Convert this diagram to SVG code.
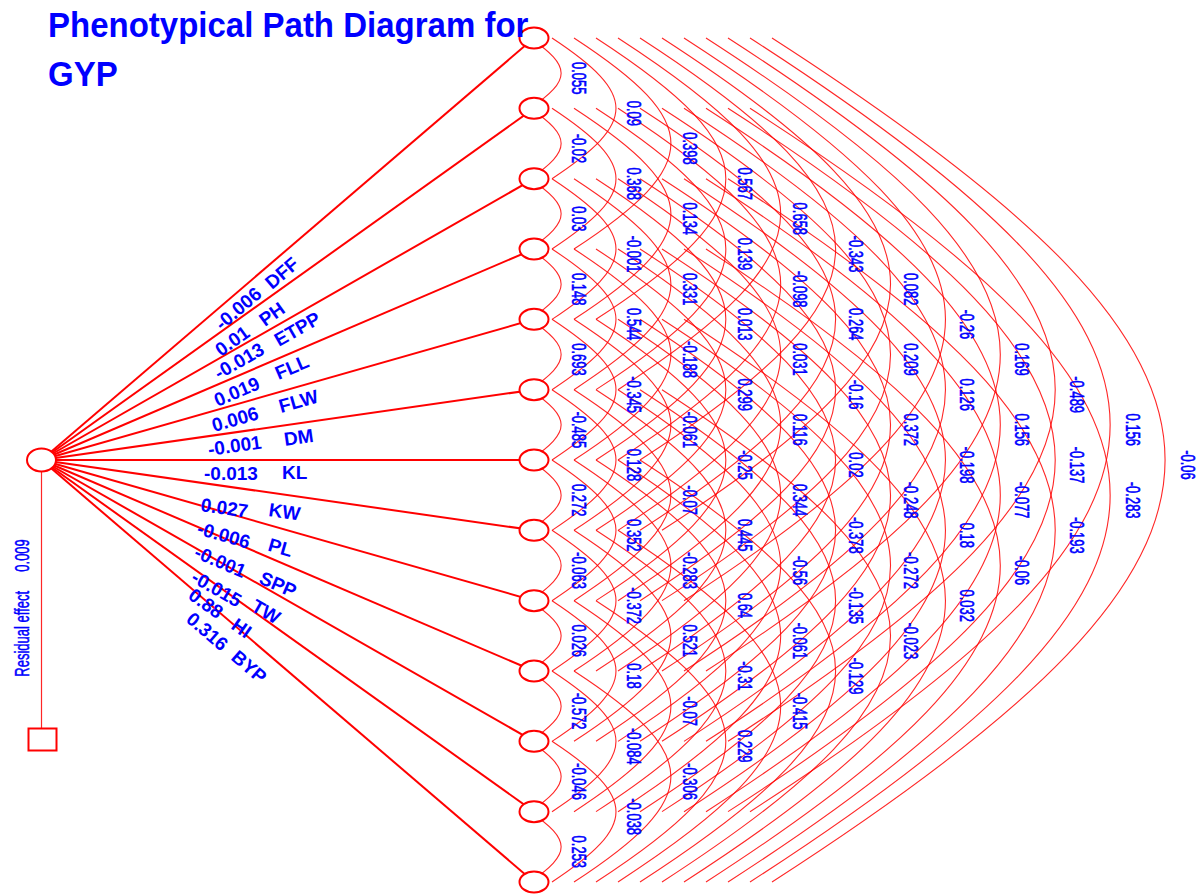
<svg xmlns="http://www.w3.org/2000/svg" width="1203" height="894" viewBox="0 0 1203 894">
<style>
.t{font-family:"Liberation Sans",Arial,sans-serif;fill:#0000ff}
.ttl{font-size:33px;font-weight:bold}
.eff{font-size:19px;font-weight:bold}
.r{font-size:20px;text-anchor:middle;stroke:#0000ff;stroke-width:0.6}
.res{font-size:20px;stroke:#0000ff;stroke-width:0.5}
.spoke{stroke:#ff0000;stroke-width:2}
.node{fill:#ffffff;stroke:#ff0000;stroke-width:2}
</style>
<defs>
<!-- correlation arcs, one shape per node distance k, drawn from y=0 -->
<path id="a1" d="M530,0 C571.5,28.13 571.5,42.2 530,70.33"/>
<path id="a2" d="M552,0 C637.3,56.27 637.3,84.4 552,140.67"/>
<path id="a3" d="M574,0 C703.2,84.4 703.2,126.6 574,211"/>
<path id="a4" d="M596,0 C769.1,112.5 769.1,168.8 596,281.33"/>
<path id="a5" d="M618,0 C834.9,140.7 834.9,211 618,351.67"/>
<path id="a6" d="M640,0 C900.8,168.8 900.8,253.2 640,422"/>
<path id="a7" d="M662,0 C966.7,196.9 966.7,295.4 662,492.33"/>
<path id="a8" d="M684,0 C1032.6,225.1 1032.6,337.6 684,562.67"/>
<path id="a9" d="M706,0 C1098.4,253.2 1098.4,379.8 706,633"/>
<path id="a10" d="M728,0 C1164.3,281.3 1164.3,422 728,703.33"/>
<path id="a11" d="M750,0 C1230.2,309.4 1230.2,464.3 750,773.67"/>
<path id="a12" d="M772,0 C1296.1,337.6 1296.1,506.4 772,844"/>
</defs>
<rect width="1203" height="894" fill="#ffffff"/>

<g id="connectors">
<g id="arcs" fill="none" stroke="#ff0000" stroke-width="1.1" stroke-opacity="0.85">
<use href="#a1" y="38"/><use href="#a1" y="108.33"/><use href="#a1" y="178.67"/><use href="#a1" y="249"/><use href="#a1" y="319.33"/><use href="#a1" y="389.67"/><use href="#a1" y="460"/><use href="#a1" y="530.33"/><use href="#a1" y="600.67"/><use href="#a1" y="671"/><use href="#a1" y="741.33"/><use href="#a1" y="811.67"/>
<use href="#a2" y="38"/><use href="#a2" y="108.33"/><use href="#a2" y="178.67"/><use href="#a2" y="249"/><use href="#a2" y="319.33"/><use href="#a2" y="389.67"/><use href="#a2" y="460"/><use href="#a2" y="530.33"/><use href="#a2" y="600.67"/><use href="#a2" y="671"/><use href="#a2" y="741.33"/>
<use href="#a3" y="38"/><use href="#a3" y="108.33"/><use href="#a3" y="178.67"/><use href="#a3" y="249"/><use href="#a3" y="319.33"/><use href="#a3" y="389.67"/><use href="#a3" y="460"/><use href="#a3" y="530.33"/><use href="#a3" y="600.67"/><use href="#a3" y="671"/>
<use href="#a4" y="38"/><use href="#a4" y="108.33"/><use href="#a4" y="178.67"/><use href="#a4" y="249"/><use href="#a4" y="319.33"/><use href="#a4" y="389.67"/><use href="#a4" y="460"/><use href="#a4" y="530.33"/><use href="#a4" y="600.67"/>
<use href="#a5" y="38"/><use href="#a5" y="108.33"/><use href="#a5" y="178.67"/><use href="#a5" y="249"/><use href="#a5" y="319.33"/><use href="#a5" y="389.67"/><use href="#a5" y="460"/><use href="#a5" y="530.33"/>
<use href="#a6" y="38"/><use href="#a6" y="108.33"/><use href="#a6" y="178.67"/><use href="#a6" y="249"/><use href="#a6" y="319.33"/><use href="#a6" y="389.67"/><use href="#a6" y="460"/>
<use href="#a7" y="38"/><use href="#a7" y="108.33"/><use href="#a7" y="178.67"/><use href="#a7" y="249"/><use href="#a7" y="319.33"/><use href="#a7" y="389.67"/>
<use href="#a8" y="38"/><use href="#a8" y="108.33"/><use href="#a8" y="178.67"/><use href="#a8" y="249"/><use href="#a8" y="319.33"/>
<use href="#a9" y="38"/><use href="#a9" y="108.33"/><use href="#a9" y="178.67"/><use href="#a9" y="249"/>
<use href="#a10" y="38"/><use href="#a10" y="108.33"/><use href="#a10" y="178.67"/>
<use href="#a11" y="38"/><use href="#a11" y="108.33"/>
<use href="#a12" y="38"/>
</g>
<g id="spokes" class="spoke">
<line x1="41.5" y1="460" x2="534" y2="38"/>
<line x1="41.5" y1="460" x2="534" y2="108.33"/>
<line x1="41.5" y1="460" x2="534" y2="178.67"/>
<line x1="41.5" y1="460" x2="534" y2="249"/>
<line x1="41.5" y1="460" x2="534" y2="319.33"/>
<line x1="41.5" y1="460" x2="534" y2="389.67"/>
<line x1="41.5" y1="460" x2="534" y2="460"/>
<line x1="41.5" y1="460" x2="534" y2="530.33"/>
<line x1="41.5" y1="460" x2="534" y2="600.67"/>
<line x1="41.5" y1="460" x2="534" y2="671"/>
<line x1="41.5" y1="460" x2="534" y2="741.33"/>
<line x1="41.5" y1="460" x2="534" y2="811.67"/>
<line x1="41.5" y1="460" x2="534" y2="882"/>
</g>
<line id="residual-link" x1="41.5" y1="471" x2="41.5" y2="728.5" stroke="#ff0000" stroke-width="1.2" stroke-opacity="0.85"/>
</g>

<!-- trait nodes -->
<g id="node-DFF"><ellipse class="node" cx="534" cy="38" rx="14.5" ry="10.5"/></g>
<g id="node-PH"><ellipse class="node" cx="534" cy="108.33" rx="14.5" ry="10.5"/></g>
<g id="node-ETPP"><ellipse class="node" cx="534" cy="178.67" rx="14.5" ry="10.5"/></g>
<g id="node-FLL"><ellipse class="node" cx="534" cy="249" rx="14.5" ry="10.5"/></g>
<g id="node-FLW"><ellipse class="node" cx="534" cy="319.33" rx="14.5" ry="10.5"/></g>
<g id="node-DM"><ellipse class="node" cx="534" cy="389.67" rx="14.5" ry="10.5"/></g>
<g id="node-KL"><ellipse class="node" cx="534" cy="460" rx="14.5" ry="10.5"/></g>
<g id="node-KW"><ellipse class="node" cx="534" cy="530.33" rx="14.5" ry="10.5"/></g>
<g id="node-PL"><ellipse class="node" cx="534" cy="600.67" rx="14.5" ry="10.5"/></g>
<g id="node-SPP"><ellipse class="node" cx="534" cy="671" rx="14.5" ry="10.5"/></g>
<g id="node-TW"><ellipse class="node" cx="534" cy="741.33" rx="14.5" ry="10.5"/></g>
<g id="node-HI"><ellipse class="node" cx="534" cy="811.67" rx="14.5" ry="10.5"/></g>
<g id="node-BYP"><ellipse class="node" cx="534" cy="882" rx="14.5" ry="10.5"/></g>
<g id="node-GYP"><ellipse class="node" cx="41.5" cy="460" rx="14.5" ry="11.5"/></g>
<g id="node-residual"><rect class="node" x="28.5" y="728.5" width="28" height="22"/></g>

<!-- title -->
<text class="t ttl" transform="translate(48,37) scale(1,1.06)">Phenotypical Path Diagram for</text>
<text class="t ttl" transform="translate(48,86) scale(1,1.06)">GYP</text>

<!-- residual effect -->
<text class="t res" transform="translate(29,676.7) rotate(-90) scale(0.65,1)">Residual effect</text>
<text class="t res" transform="translate(29,571.7) rotate(-90) scale(0.65,1)">0.009</text>

<!-- direct effects on the spokes -->
<g id="direct-effects" class="t eff">
<text transform="translate(222,331) rotate(-40.6)">-0.006</text><text transform="translate(272,290) rotate(-40.6)">DFF</text>
<text transform="translate(221,357) rotate(-35.53)">0.01</text><text transform="translate(265,327) rotate(-35.53)">PH</text>
<text transform="translate(219,380) rotate(-29.74)">-0.013</text><text transform="translate(279,347) rotate(-29.74)">ETPP</text>
<text transform="translate(217.5,407) rotate(-23.19)">0.019</text><text transform="translate(278.5,380) rotate(-23.19)">FLL</text>
<text transform="translate(214,432) rotate(-15.94)">0.006</text><text transform="translate(281,413) rotate(-15.94)">FLW</text>
<text transform="translate(209,456) rotate(-8.13)">-0.001</text><text transform="translate(285,446) rotate(-8.13)">DM</text>
<text transform="translate(204,480)">-0.013</text><text transform="translate(282,479)">KL</text>
<text transform="translate(200,511) rotate(8.13)">0.027</text><text transform="translate(268,516) rotate(8.13)">KW</text>
<text transform="translate(196,534) rotate(15.94)">-0.006</text><text transform="translate(267,550.5) rotate(15.94)">PL</text>
<text transform="translate(193,557) rotate(23.19)">-0.001</text><text transform="translate(258,583) rotate(23.19)">SPP</text>
<text transform="translate(190,581) rotate(29.74)">-0.015</text><text transform="translate(250,610) rotate(29.74)">TW</text>
<text transform="translate(187,598) rotate(35.53)">0.88</text><text transform="translate(230,628) rotate(35.53)">HI</text>
<text transform="translate(185,621) rotate(40.6)">0.316</text><text transform="translate(230,659) rotate(40.6)">BYP</text>
</g>

<!-- correlations, one column per node distance -->
<g id="correlations" class="t r">
<g transform="translate(571.7,0)">
<text transform="translate(0,78.17) rotate(90) scale(0.65,1)">0.055</text>
<text transform="translate(0,148.5) rotate(90) scale(0.65,1)">-0.02</text>
<text transform="translate(0,218.83) rotate(90) scale(0.65,1)">0.03</text>
<text transform="translate(0,289.17) rotate(90) scale(0.65,1)">0.148</text>
<text transform="translate(0,359.5) rotate(90) scale(0.65,1)">0.693</text>
<text transform="translate(0,429.83) rotate(90) scale(0.65,1)">-0.485</text>
<text transform="translate(0,500.17) rotate(90) scale(0.65,1)">0.272</text>
<text transform="translate(0,570.5) rotate(90) scale(0.65,1)">-0.063</text>
<text transform="translate(0,640.83) rotate(90) scale(0.65,1)">0.026</text>
<text transform="translate(0,711.17) rotate(90) scale(0.65,1)">-0.572</text>
<text transform="translate(0,781.5) rotate(90) scale(0.65,1)">-0.046</text>
<text transform="translate(0,851.83) rotate(90) scale(0.65,1)">0.253</text>
</g>
<g transform="translate(627.1,0)">
<text transform="translate(0,113.33) rotate(90) scale(0.65,1)">0.09</text>
<text transform="translate(0,183.67) rotate(90) scale(0.65,1)">0.368</text>
<text transform="translate(0,254) rotate(90) scale(0.65,1)">-0.001</text>
<text transform="translate(0,324.33) rotate(90) scale(0.65,1)">0.544</text>
<text transform="translate(0,394.67) rotate(90) scale(0.65,1)">-0.345</text>
<text transform="translate(0,465) rotate(90) scale(0.65,1)">0.128</text>
<text transform="translate(0,535.33) rotate(90) scale(0.65,1)">0.352</text>
<text transform="translate(0,605.67) rotate(90) scale(0.65,1)">-0.372</text>
<text transform="translate(0,676) rotate(90) scale(0.65,1)">0.18</text>
<text transform="translate(0,746.33) rotate(90) scale(0.65,1)">-0.084</text>
<text transform="translate(0,816.67) rotate(90) scale(0.65,1)">-0.038</text>
</g>
<g transform="translate(682.5,0)">
<text transform="translate(0,148.5) rotate(90) scale(0.65,1)">0.398</text>
<text transform="translate(0,218.83) rotate(90) scale(0.65,1)">0.134</text>
<text transform="translate(0,289.17) rotate(90) scale(0.65,1)">0.331</text>
<text transform="translate(0,359.5) rotate(90) scale(0.65,1)">-0.188</text>
<text transform="translate(0,429.83) rotate(90) scale(0.65,1)">-0.061</text>
<text transform="translate(0,500.17) rotate(90) scale(0.65,1)">-0.07</text>
<text transform="translate(0,570.5) rotate(90) scale(0.65,1)">-0.283</text>
<text transform="translate(0,640.83) rotate(90) scale(0.65,1)">0.521</text>
<text transform="translate(0,711.17) rotate(90) scale(0.65,1)">-0.07</text>
<text transform="translate(0,781.5) rotate(90) scale(0.65,1)">-0.306</text>
</g>
<g transform="translate(737.9,0)">
<text transform="translate(0,183.67) rotate(90) scale(0.65,1)">0.567</text>
<text transform="translate(0,254) rotate(90) scale(0.65,1)">0.139</text>
<text transform="translate(0,324.33) rotate(90) scale(0.65,1)">0.013</text>
<text transform="translate(0,394.67) rotate(90) scale(0.65,1)">0.299</text>
<text transform="translate(0,465) rotate(90) scale(0.65,1)">-0.25</text>
<text transform="translate(0,535.33) rotate(90) scale(0.65,1)">0.445</text>
<text transform="translate(0,605.67) rotate(90) scale(0.65,1)">0.64</text>
<text transform="translate(0,676) rotate(90) scale(0.65,1)">-0.31</text>
<text transform="translate(0,746.33) rotate(90) scale(0.65,1)">0.229</text>
</g>
<g transform="translate(793.3,0)">
<text transform="translate(0,218.83) rotate(90) scale(0.65,1)">0.658</text>
<text transform="translate(0,289.17) rotate(90) scale(0.65,1)">-0.098</text>
<text transform="translate(0,359.5) rotate(90) scale(0.65,1)">0.031</text>
<text transform="translate(0,429.83) rotate(90) scale(0.65,1)">0.116</text>
<text transform="translate(0,500.17) rotate(90) scale(0.65,1)">0.344</text>
<text transform="translate(0,570.5) rotate(90) scale(0.65,1)">-0.56</text>
<text transform="translate(0,640.83) rotate(90) scale(0.65,1)">-0.061</text>
<text transform="translate(0,711.17) rotate(90) scale(0.65,1)">-0.415</text>
</g>
<g transform="translate(848.7,0)">
<text transform="translate(0,254) rotate(90) scale(0.65,1)">-0.343</text>
<text transform="translate(0,324.33) rotate(90) scale(0.65,1)">0.264</text>
<text transform="translate(0,394.67) rotate(90) scale(0.65,1)">-0.16</text>
<text transform="translate(0,465) rotate(90) scale(0.65,1)">0.02</text>
<text transform="translate(0,535.33) rotate(90) scale(0.65,1)">-0.378</text>
<text transform="translate(0,605.67) rotate(90) scale(0.65,1)">-0.135</text>
<text transform="translate(0,676) rotate(90) scale(0.65,1)">-0.129</text>
</g>
<g transform="translate(904.1,0)">
<text transform="translate(0,289.17) rotate(90) scale(0.65,1)">0.082</text>
<text transform="translate(0,359.5) rotate(90) scale(0.65,1)">0.209</text>
<text transform="translate(0,429.83) rotate(90) scale(0.65,1)">0.372</text>
<text transform="translate(0,500.17) rotate(90) scale(0.65,1)">-0.248</text>
<text transform="translate(0,570.5) rotate(90) scale(0.65,1)">-0.272</text>
<text transform="translate(0,640.83) rotate(90) scale(0.65,1)">-0.023</text>
</g>
<g transform="translate(959.5,0)">
<text transform="translate(0,324.33) rotate(90) scale(0.65,1)">-0.26</text>
<text transform="translate(0,394.67) rotate(90) scale(0.65,1)">0.126</text>
<text transform="translate(0,465) rotate(90) scale(0.65,1)">-0.198</text>
<text transform="translate(0,535.33) rotate(90) scale(0.65,1)">0.18</text>
<text transform="translate(0,605.67) rotate(90) scale(0.65,1)">0.032</text>
</g>
<g transform="translate(1014.9,0)">
<text transform="translate(0,359.5) rotate(90) scale(0.65,1)">0.169</text>
<text transform="translate(0,429.83) rotate(90) scale(0.65,1)">0.156</text>
<text transform="translate(0,500.17) rotate(90) scale(0.65,1)">-0.077</text>
<text transform="translate(0,570.5) rotate(90) scale(0.65,1)">-0.06</text>
</g>
<g transform="translate(1070.3,0)">
<text transform="translate(0,394.67) rotate(90) scale(0.65,1)">-0.489</text>
<text transform="translate(0,465) rotate(90) scale(0.65,1)">-0.137</text>
<text transform="translate(0,535.33) rotate(90) scale(0.65,1)">-0.193</text>
</g>
<g transform="translate(1125.7,0)">
<text transform="translate(0,429.83) rotate(90) scale(0.65,1)">0.156</text>
<text transform="translate(0,500.17) rotate(90) scale(0.65,1)">-0.283</text>
</g>
<g transform="translate(1181.1,0)">
<text transform="translate(0,465) rotate(90) scale(0.65,1)">-0.06</text>
</g>
</g>
</svg>
